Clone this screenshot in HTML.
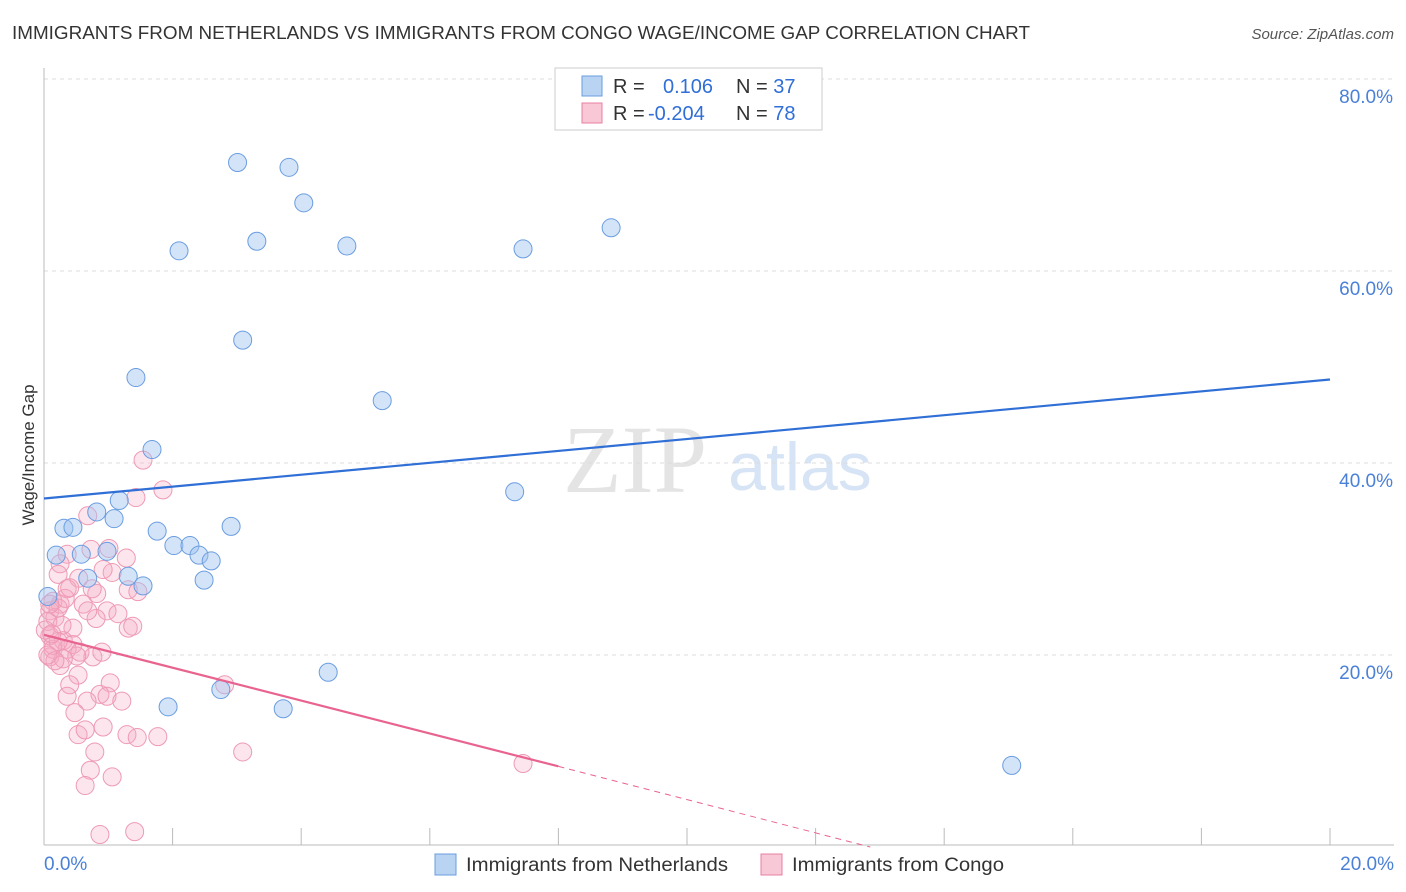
<!DOCTYPE html>
<html><head><meta charset="utf-8"><style>
body{margin:0;background:#fff;font-family:"Liberation Sans",sans-serif}
svg{display:block}
</style></head><body>
<svg id="c" width="1406" height="892">
<text x="12" y="39" font-size="18" fill="#333" textLength="1018" lengthAdjust="spacingAndGlyphs">IMMIGRANTS FROM NETHERLANDS VS IMMIGRANTS FROM CONGO WAGE/INCOME GAP CORRELATION CHART</text>
<text x="1394" y="39" font-size="15" fill="#555" font-style="italic" text-anchor="end">Source: ZipAtlas.com</text>
<text x="635" y="492" font-size="96" fill="#e4e4e4" font-family="Liberation Serif" text-anchor="middle">ZIP</text>
<text x="800" y="490" font-size="68" fill="#d6e4f5" text-anchor="middle">atlas</text>
<text transform="translate(34,455) rotate(-90)" font-size="17" fill="#333" text-anchor="middle">Wage/Income Gap</text>
<g id="grid"></g><g id="marks"></g><g id="lines"></g>
<g>
<rect x="555" y="68" width="267" height="62" fill="#fff" stroke="#ccc"/>
<rect x="582" y="76" width="20" height="20" fill="#b9d3f3" stroke="#6a9de0"/>
<rect x="582" y="103" width="20" height="20" fill="#f9c8d6" stroke="#e87fa0"/>
<text x="613" y="93" font-size="20" fill="#333">R = <tspan x="663" fill="#2f6fd6">0.106</tspan><tspan x="736" fill="#333">N = </tspan><tspan fill="#2f6fd6">37</tspan></text>
<text x="613" y="120" font-size="20" fill="#333">R = <tspan x="648" fill="#2f6fd6">-0.204</tspan><tspan x="736" fill="#333">N = </tspan><tspan fill="#2f6fd6">78</tspan></text>
</g>
<g>
<rect x="435" y="854" width="21" height="21" fill="#b9d3f3" stroke="#6a9de0"/>
<text x="466" y="871" font-size="19" fill="#333" textLength="262" lengthAdjust="spacingAndGlyphs">Immigrants from Netherlands</text>
<rect x="761" y="854" width="21" height="21" fill="#f9c8d6" stroke="#e87fa0"/>
<text x="792" y="871" font-size="19" fill="#333" textLength="212" lengthAdjust="spacingAndGlyphs">Immigrants from Congo</text>
</g>
</svg>
<script>
const yTicks=[20,40,60,80];
const xTickLabels=["0.0%","20.0%"];
const blueX=[3.01,3.81,4.04,3.31,2.10,4.71,7.45,8.82,3.09,1.43,5.26,1.68,7.32,0.19,0.31,0.45,0.82,1.09,1.17,0.58,0.98,1.76,2.02,2.27,2.41,2.60,2.91,0.68,1.31,1.54,2.49,0.06,4.42,2.75,1.93,3.72,15.05];
const blueY=[71.3,70.8,67.1,63.1,62.1,62.6,62.3,64.5,52.8,48.9,46.5,41.4,37.0,30.4,33.2,33.3,34.9,34.2,36.1,30.5,30.8,32.9,31.4,31.4,30.4,29.8,33.4,28.0,28.2,27.2,27.8,26.1,18.2,16.4,14.6,14.4,8.5];
const pinkX=[1.54,1.85,1.43,0.68,1.01,0.73,0.36,1.28,0.25,0.22,1.06,0.92,0.54,0.82,0.75,1.31,1.46,0.36,0.98,0.81,1.31,1.38,0.45,0.61,0.25,0.14,0.09,0.17,0.30,0.45,0.09,0.14,0.36,0.56,0.76,0.90,0.09,0.25,0.53,0.40,1.03,0.87,0.36,0.67,0.98,1.21,0.48,0.53,0.64,0.92,1.29,1.45,1.77,0.79,0.72,1.06,0.64,0.87,1.41,3.09,2.81,0.06,0.22,0.33,0.09,0.02,0.51,0.30,0.14,7.45,0.17,0.06,0.28,0.68,1.15,0.22,0.12,0.40];
const pinkY=[40.3,37.2,36.4,34.5,31.1,31.0,30.5,30.1,29.5,28.4,28.6,28.9,28.0,26.4,26.9,26.8,26.6,26.9,24.6,23.8,22.8,23.0,22.8,25.3,25.3,25.6,24.6,23.9,21.5,21.1,22.0,20.6,20.6,20.3,19.8,20.3,19.8,18.9,17.9,16.9,17.1,15.9,15.7,15.2,15.7,15.2,14.0,11.7,12.2,12.5,11.7,11.4,11.5,9.9,8.0,7.3,6.4,1.3,1.6,9.9,16.9,23.5,24.9,25.9,25.3,22.6,19.9,19.6,21.0,8.7,19.4,20.0,23.1,24.6,24.3,21.4,22.2,27.0];
const blueFit=[36.3,48.7]; const pinkFit=[22.1,8.4,0.0]; const pinkFitX=[0,8.0,12.85];
const L=44,R=1330,T=79,B=847;
const sx=v=>L+(v/20)*(R-L), sy=v=>B-(v/80)*(B-T);
const NS="http://www.w3.org/2000/svg";
function mk(p,t,a){const e=document.createElementNS(NS,t);for(const k in a)e.setAttribute(k,a[k]);p.appendChild(e);return e;}
const g=document.getElementById('grid');
yTicks.forEach(v=>{
 const l=mk(g,'line',{x1:L,x2:1394,y1:sy(v),y2:sy(v),stroke:'#ddd','stroke-dasharray':'4,4'});
 
 
 const t=mk(g,'text',{x:1393,y:sy(v)+24,'font-size':19,fill:'#4a80d8','text-anchor':'end'});t.textContent=v.toFixed(1)+'%';
 
 
});
mk(g,'line',{x1:L,x2:L,y1:68,y2:845,stroke:'#bbb'});
mk(g,'line',{x1:L,x2:1394,y1:845,y2:845,stroke:'#bbb'});
for(let i=0;i<=10;i++){const x=sx(i*2);mk(g,'line',{x1:x,x2:x,y1:828,y2:845,stroke:'#bbb'});}
const t0=mk(g,'text',{x:44,y:870,'font-size':19,fill:'#4a80d8'});t0.textContent=xTickLabels[0];


const t1=mk(g,'text',{x:1394,y:870,'font-size':19,fill:'#4a80d8','text-anchor':'end'});t1.textContent=xTickLabels[1];


const m=document.getElementById('marks');
pinkX.forEach((v,i)=>{const c=mk(m,'circle',{cx:sx(v),cy:sy(pinkY[i]),r:9,fill:'rgba(246,170,196,0.3)',stroke:'#ee9ab4','stroke-width':1});
 
 });
blueX.forEach((v,i)=>{const c=mk(m,'circle',{cx:sx(v),cy:sy(blueY[i]),r:9,fill:'rgba(160,196,240,0.45)',stroke:'#6a9de0','stroke-width':1});
 
 });
const ln=document.getElementById('lines');
const bl=mk(ln,'line',{x1:sx(0),y1:sy(blueFit[0]),x2:sx(20),y2:sy(blueFit[1]),stroke:'#2f6fd6','stroke-width':2.2});


const pl=mk(ln,'line',{x1:sx(pinkFitX[0]),y1:sy(pinkFit[0]),x2:sx(pinkFitX[1]),y2:sy(pinkFit[1]),stroke:'#e8648f','stroke-width':2.2});


const pd=mk(ln,'line',{x1:sx(pinkFitX[1]),y1:sy(pinkFit[1]),x2:sx(pinkFitX[2]),y2:sy(pinkFit[2]),stroke:'#e8648f','stroke-width':1,'stroke-dasharray':'6,5'});


</script>
</body></html>
